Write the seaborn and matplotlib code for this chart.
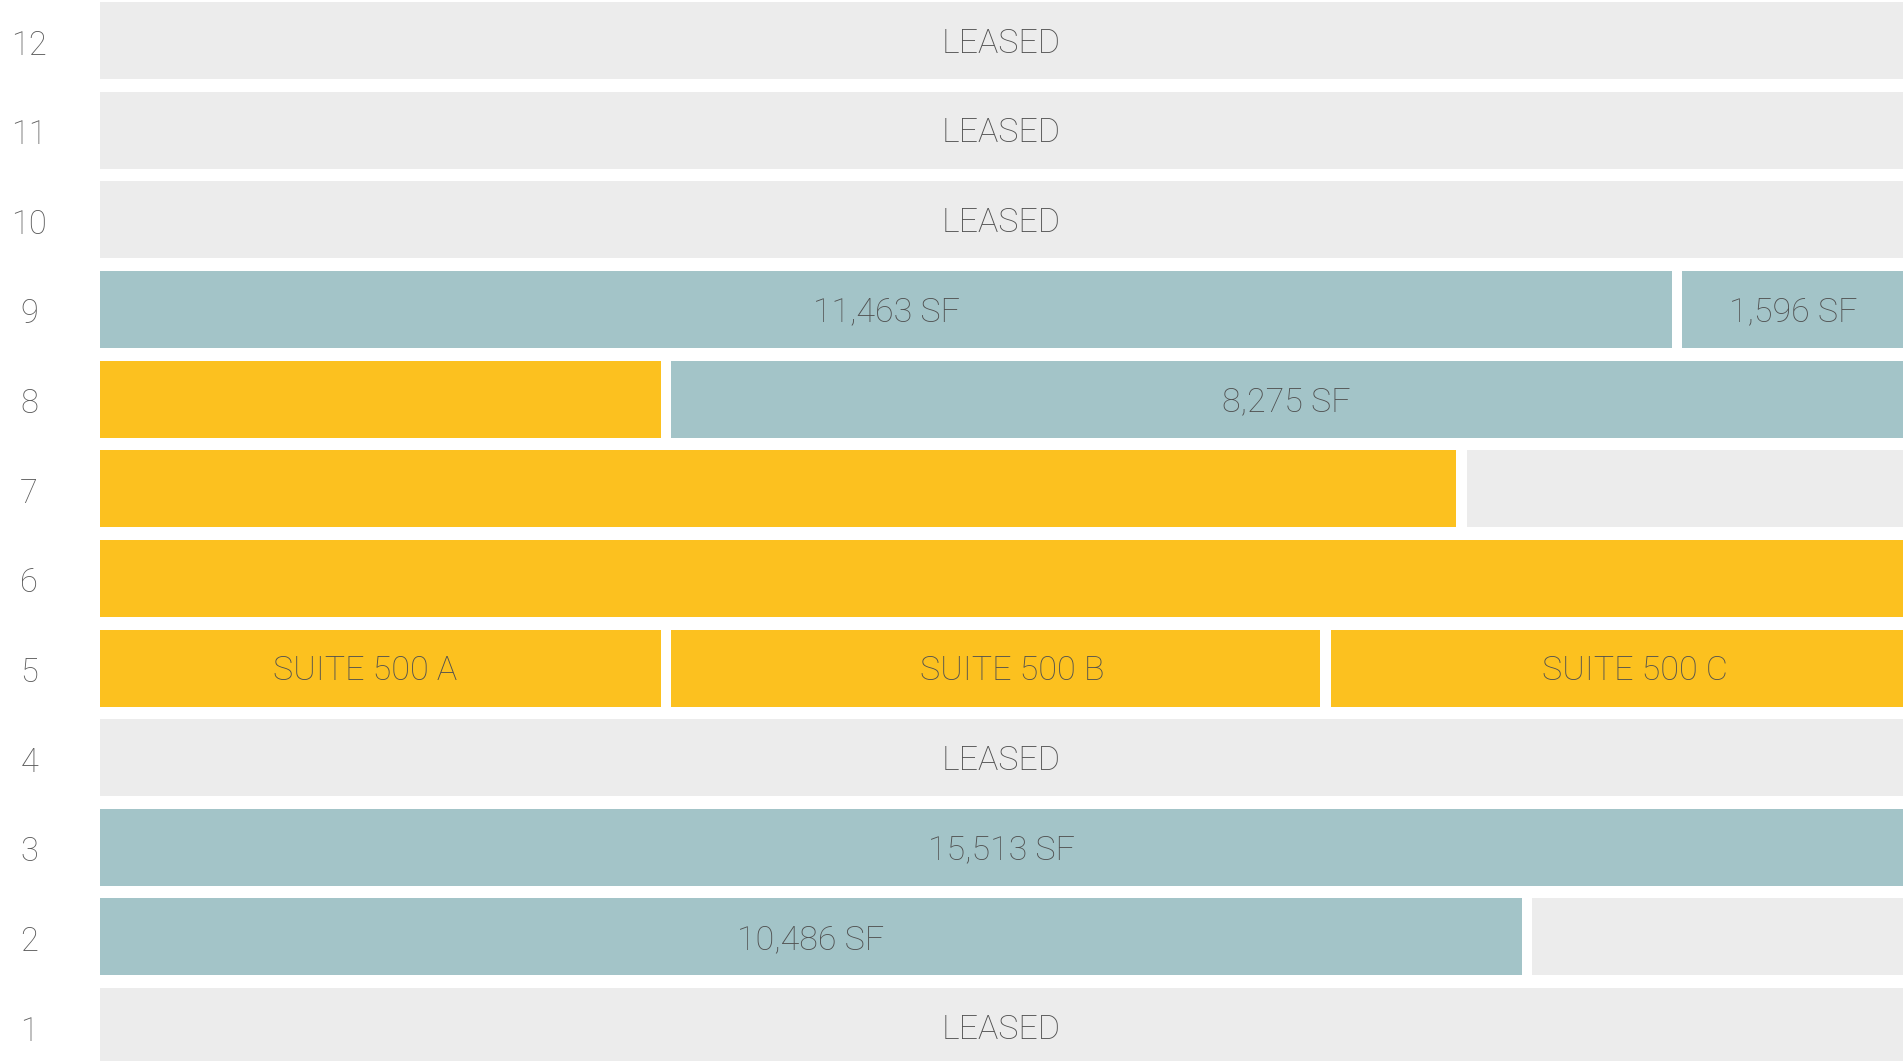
import matplotlib
matplotlib.use("Agg")
import matplotlib.pyplot as plt
import matplotlib.transforms as mtransforms
import pandas as pd
import seaborn as sns

# stockwerke von oben nach unten
floors = ["12", "11", "10", "9", "8", "7", "6", "5", "4", "3", "2", "1"]

# segmente je stockwerk: start (in % der geschossbreite), ende, status
seg_floor = ["12", "11", "10", "9", "9", "8", "8", "7", "7", "6",
             "5", "5", "5", "4", "3", "2", "2", "1"]
seg_start = [0, 0, 0, 0, 87.74, 0, 31.67, 0, 75.82, 0,
             0, 31.67, 68.27, 0, 0, 0, 79.42, 0]
seg_end = [100, 100, 100, 87.19, 100, 31.11, 100, 75.21, 100, 100,
           31.11, 67.69, 100, 100, 100, 78.87, 100, 100]
seg_status = ["leased", "leased", "leased", "avail", "avail", "suite", "avail", "suite", "leased", "suite",
              "suite", "suite", "suite", "leased", "avail", "avail", "leased", "leased"]

# beschriftungen mit position (in %)
lab_floor = ["12", "11", "10", "9", "9", "8", "5", "5", "5", "4", "3", "2", "1"]
lab_x = [50, 50, 50, 43.6, 93.9, 65.8, 14.71, 50.59, 85.12, 50, 50, 39.4, 50]
lab_text = ["LEASED", "LEASED", "LEASED", "11,463 SF", "1,596 SF", "8,275 SF",
            "SUITE 500 A", "SUITE 500 B", "SUITE 500 C", "LEASED", "15,513 SF", "10,486 SF", "LEASED"]

colors = {"leased": "#ECECEC", "avail": "#A3C4C8", "suite": "#FCC11F"}

df = pd.DataFrame({"floor": seg_floor, "start": seg_start, "end": seg_end, "status": seg_status})
df["width"] = df["end"] - df["start"]

sns.set_theme(style="white")
plt.rcParams["font.family"] = ["Roboto", "DejaVu Sans"]

fig = plt.figure(figsize=(19.03, 10.61), dpi=100)
ax = fig.add_axes([100 / 1903, 0, 1 - 100 / 1903, 1])

for i, row in df.iterrows():
    sns.barplot(x=[row["width"]], y=[row["floor"]], order=floors, orient="h",
                left=[row["start"]], color=colors[row["status"]], width=0.859,
                errorbar=None, saturation=1, linewidth=0, ax=ax)

# text etwas nach unten schieben (optische mitte der grossbuchstaben)
shift = mtransforms.ScaledTranslation(0, -3 / 100, fig.dpi_scale_trans)
for f, x, s in zip(lab_floor, lab_x, lab_text):
    ax.text(x, floors.index(f), s, ha="center", va="center", fontsize=24.5,
            fontweight="light", color="#505050", transform=ax.transData + shift)

ax.set_xlim(0, 100)
ax.set_ylim(11.384, -0.452)
ax.set_xticks([])
ax.set_xlabel("")
ax.set_ylabel("")
ax.tick_params(axis="y", length=0, pad=51)
for t in ax.get_yticklabels():
    t.set_ha("center")
    t.set_fontsize(23.5)
    t.set_fontweight("light")
    t.set_color("#5a5a5a")
    t.set_transform(t.get_transform() + mtransforms.ScaledTranslation(0, -1.5 / 100, fig.dpi_scale_trans))
sns.despine(ax=ax, left=True, bottom=True)

fig.savefig("out.png", dpi=100)
